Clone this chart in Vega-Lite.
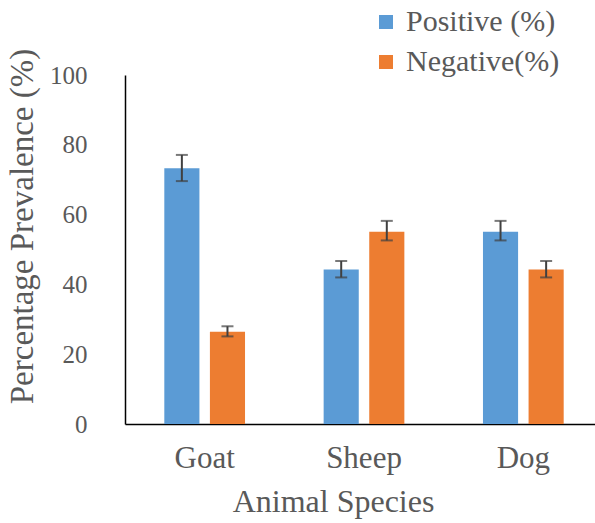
{
  "$schema": "https://vega.github.io/schema/vega-lite/v6.json",
  "width": 470,
  "height": 349,
  "autosize": {"type": "none"},
  "padding": {"left": 125, "top": 75, "right": 0, "bottom": 99},
  "background": "white",
  "config": {
    "font": "Liberation Serif, DejaVu Serif, serif",
    "view": {"stroke": null},
    "axis": {
      "grid": false,
      "ticks": false,
      "tickSize": 0,
      "domainColor": "#000000",
      "domainWidth": 1.5,
      "labelColor": "#595959",
      "titleColor": "#595959",
      "titleFontWeight": "normal"
    },
    "axisY": {"labelFontSize": 25, "labelPadding": 38, "titleFontSize": 33, "titlePadding": 10, "titleY": 151, "titleAlign": "center"},
    "axisX": {"labelFontSize": 31, "labelPadding": 19, "titleFontSize": 32, "titlePadding": 13, "labelAngle": 0, "titleX": 208, "titleAlign": "center"}
  },
  "data": {
    "values": [
      {"species": "Goat", "type": "Positive (%)", "value": 73.3, "lo": 69.6, "hi": 77.1},
      {"species": "Goat", "type": "Negative(%)", "value": 26.4, "lo": 25.1, "hi": 28.0},
      {"species": "Sheep", "type": "Positive (%)", "value": 44.3, "lo": 42.0, "hi": 46.7},
      {"species": "Sheep", "type": "Negative(%)", "value": 55.1, "lo": 52.6, "hi": 58.2},
      {"species": "Dog", "type": "Positive (%)", "value": 55.1, "lo": 52.6, "hi": 58.2},
      {"species": "Dog", "type": "Negative(%)", "value": 44.3, "lo": 42.0, "hi": 46.7}
    ]
  },
  "encoding": {
    "x": {
      "field": "species",
      "type": "nominal",
      "sort": ["Goat", "Sheep", "Dog"],
      "scale": {"paddingInner": 0, "paddingOuter": 0, "range": [0, 478]},
      "title": "Animal Species"
    },
    "xOffset": {
      "field": "type",
      "type": "nominal",
      "sort": ["Positive (%)", "Negative(%)"],
      "scale": {"paddingInner": 0.23, "paddingOuter": 0.862}
    }
  },
  "layer": [
    {
      "mark": {"type": "bar"},
      "encoding": {
        "y": {
          "field": "value",
          "type": "quantitative",
          "scale": {"domain": [0, 100]},
          "axis": {"values": [0, 20, 40, 60, 80, 100]},
          "title": "Percentage Prevalence (%)"
        },
        "color": {
          "field": "type",
          "type": "nominal",
          "sort": ["Positive (%)", "Negative(%)"],
          "scale": {"domain": ["Positive (%)", "Negative(%)"], "range": ["#5B9BD5", "#ED7D31"]},
          "legend": {
            "orient": "none",
            "legendX": 246,
            "legendY": -68,
            "title": null,
            "symbolType": "square",
            "symbolSize": 196,
            "symbolStrokeWidth": 0,
            "labelFontSize": 30,
            "labelColor": "#595959",
            "labelOffset": 5,
            "rowPadding": 10
          }
        }
      }
    },
    {
      "mark": {"type": "rule", "color": "#404040", "strokeWidth": 2},
      "encoding": {
        "y": {"field": "lo", "type": "quantitative", "title": "Percentage Prevalence (%)"},
        "y2": {"field": "hi"}
      }
    },
    {
      "mark": {"type": "tick", "color": "#404040", "thickness": 2, "size": 12},
      "encoding": {
        "y": {"field": "lo", "type": "quantitative", "title": "Percentage Prevalence (%)"}
      }
    },
    {
      "mark": {"type": "tick", "color": "#404040", "thickness": 2, "size": 12},
      "encoding": {
        "y": {"field": "hi", "type": "quantitative", "title": "Percentage Prevalence (%)"}
      }
    }
  ]
}
